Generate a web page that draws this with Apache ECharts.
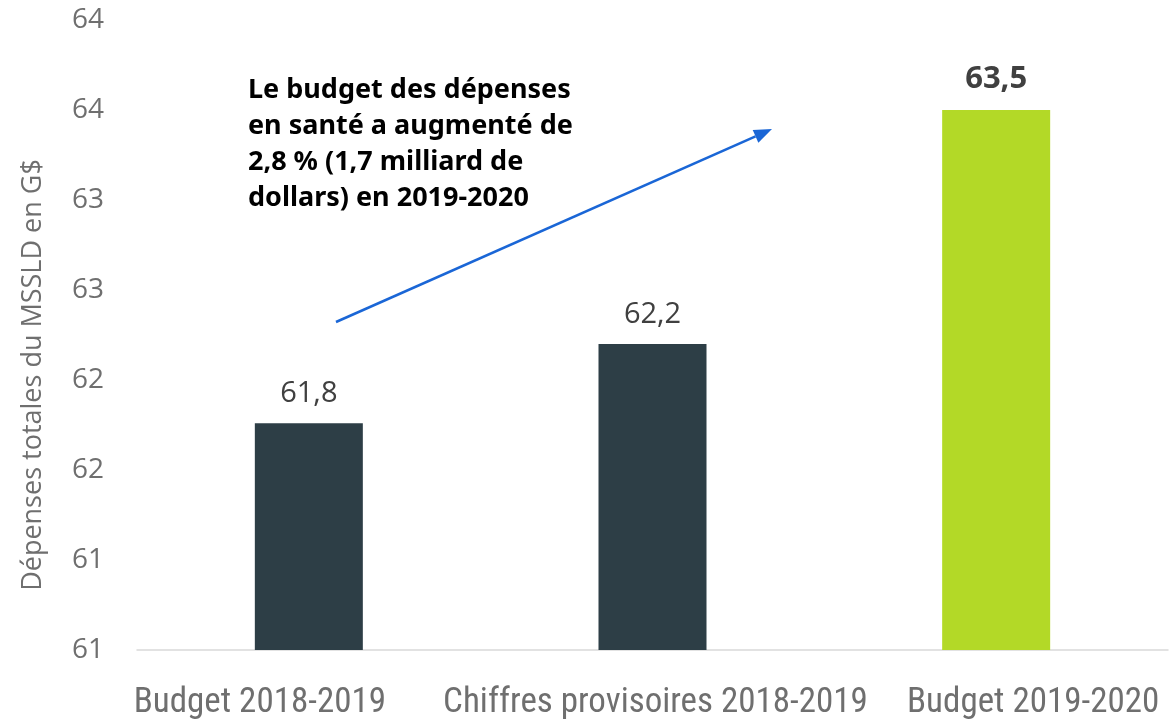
<!DOCTYPE html>
<html>
<head>
<meta charset="utf-8">
<script src="https://cdn.jsdelivr.net/npm/echarts@6/dist/echarts.min.js"></script>
<style>
  html, body { margin: 0; padding: 0; background: #fff; }
  #chart { width: 1170px; height: 722px; }
</style>
</head>
<body>
<div id="chart"></div>
<script>
  // données
  const categories = ['Budget 2018-2019', 'Chiffres provisoires 2018-2019', 'Budget 2019-2020']
  const values = [61.76, 62.2, 63.5]
  const barColors = ['#2d3e46', '#2d3e46', '#b3d927']
  const yMin = 60.5
  const yMax = 64
  const yStep = 0.5

  // décalage horizontal des libellés (comme dans l'original, pour éviter le chevauchement)
  const labelPads = [[0, 98, 0, 0], [0, 0, 0, 6], [0, 0, 0, 74]]

  const myChart = echarts.init(document.getElementById('chart'))

  // flèche annotation
  const ax1 = 336, ay1 = 322, ax2 = 772, ay2 = 129
  const ang = Math.atan2(ay2 - ay1, ax2 - ax1)
  const headLen = 18, headW = 7
  const bx = ax2 - headLen * Math.cos(ang), by = ay2 - headLen * Math.sin(ang)
  const head = [
    [ax2, ay2],
    [bx + headW * Math.sin(ang), by - headW * Math.cos(ang)],
    [bx - headW * Math.sin(ang), by + headW * Math.cos(ang)]
  ]

  const option = {
    animation: false,
    grid: { left: 137, right: 2, top: 20, bottom: 72, containLabel: false },
    xAxis: {
      type: 'category',
      data: categories.map((c, i) => ({ value: c, textStyle: { padding: labelPads[i] } })),
      axisTick: { show: false },
      axisLine: { lineStyle: { color: '#d9d9d9', width: 1.5 } },
      axisLabel: {
        color: '#6f6f6f',
        fontSize: 35,
        fontFamily: '"Liberation Sans Narrow", "Roboto Condensed", sans-serif',
        margin: 36,
        interval: 0
      }
    },
    yAxis: {
      type: 'value',
      min: yMin,
      max: yMax,
      interval: yStep,
      splitLine: { show: false },
      axisLine: { show: false },
      axisTick: { show: false },
      axisLabel: {
        color: '#6f6f6f',
        fontSize: 28,
        fontFamily: '"Open Sans", sans-serif',
        margin: 33,
        formatter: v => String(Math.round(v))
      }
    },
    series: [{
      type: 'bar',
      barWidth: 108,
      data: values.map((v, i) => ({
        value: v,
        itemStyle: { color: barColors[i] },
        label: i === 2 ? { fontWeight: 'bold', fontSize: 31 } : {}
      })),
      label: {
        show: true,
        position: 'top',
        distance: 15,
        color: '#404040',
        fontSize: 29,
        fontFamily: '"Open Sans", sans-serif',
        formatter: p => p.value.toFixed(1).replace('.', ',')
      }
    }],
    graphic: [
      {
        type: 'text',
        x: 33,
        y: 375,
        rotation: Math.PI / 2,
        style: {
          text: 'Dépenses totales du MSSLD en G$',
          fill: '#6f6f6f',
          font: '27px "Open Sans", sans-serif',
          align: 'center',
          verticalAlign: 'middle'
        }
      },
      {
        type: 'text',
        left: 248,
        top: 72,
        style: {
          text: 'Le budget des dépenses\nen santé a augmenté de\n2,8 % (1,7 milliard de\ndollars) en 2019-2020',
          fill: '#000',
          font: 'bold 27px "Noto Sans", sans-serif',
          lineHeight: 36
        }
      },
      {
        type: 'line',
        shape: { x1: ax1, y1: ay1, x2: bx, y2: by },
        style: { stroke: '#1a66d6', lineWidth: 2.5 }
      },
      {
        type: 'polygon',
        shape: { points: head },
        style: { fill: '#1a66d6' }
      }
    ]
  }
  myChart.setOption(option)
</script>
</body>
</html>
